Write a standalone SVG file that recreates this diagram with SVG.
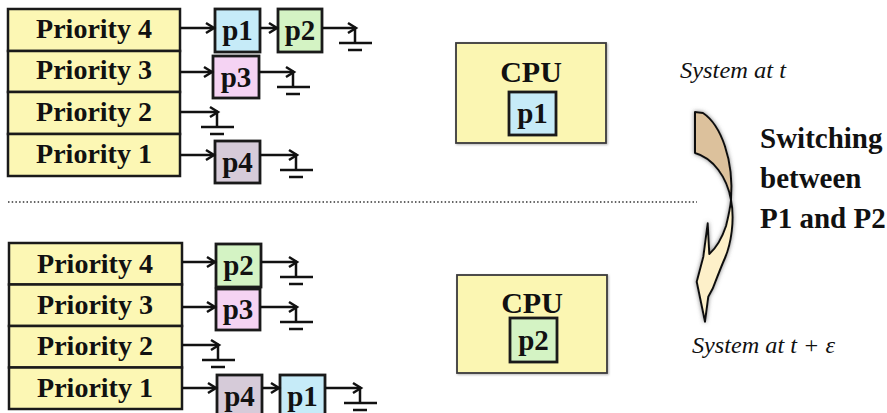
<svg xmlns="http://www.w3.org/2000/svg" xmlns:xlink="http://www.w3.org/1999/xlink" width="887" height="413" viewBox="0 0 887 413">
<style>
.row{fill:#fcf7b4;stroke:#1a1a1a;stroke-width:2.5}
.lbl{font-family:"Liberation Serif","Times New Roman",serif;font-weight:bold;font-size:28px;fill:#111;text-anchor:middle}
.pl{font-family:"Liberation Serif","Times New Roman",serif;font-weight:bold;font-size:29px;fill:#111;text-anchor:middle}
.pb{stroke:#1a1a1a;stroke-width:2.8}
.p1{fill:#c6ebf8}.p2{fill:#d4f3c4}.p3{fill:#f5d3f3}.p4{fill:#d6cbd9}
.cpu{fill:#fbf6b2;stroke:#3a3a3a;stroke-width:1.8}
.cl{font-family:"Liberation Serif","Times New Roman",serif;font-weight:bold;font-size:30px;fill:#111;text-anchor:middle}
.it{font-family:"Liberation Serif","Times New Roman",serif;font-style:italic;font-size:23px;fill:#111}
.sw{font-family:"Liberation Serif","Times New Roman",serif;font-weight:bold;font-size:29px;fill:#111}
.cn{fill:none;stroke:#111;stroke-width:2.5;marker-end:url(#ah)}
.g{fill:none;stroke:#111;stroke-width:2.5}
</style>
<defs>
<marker id="ah" viewBox="-2 -2 14 14" refX="9" refY="5" markerWidth="14" markerHeight="14" markerUnits="userSpaceOnUse" orient="auto">
<path d="M1,0 L9,5 L1,10" fill="none" stroke="#111" stroke-width="2.5"/>
</marker>
<g id="gnd">
<line class="g" x1="-1" y1="0" x2="-1" y2="15"/>
<line class="g" x1="-17" y1="15" x2="16" y2="15"/>
<line class="g" x1="-8" y1="22" x2="6" y2="22"/>
</g>
<filter id="sh" x="-50%" y="-20%" width="200%" height="140%">
<feDropShadow dx="0" dy="0" stdDeviation="2" flood-color="#666" flood-opacity="0.8"/>
</filter>
<filter id="bs" x="-10%" y="-10%" width="120%" height="120%">
<feDropShadow dx="1" dy="1" stdDeviation="1" flood-color="#888" flood-opacity="0.6"/>
</filter>
</defs>

<!-- TOP: priority table -->
<g id="top-priority-4"><rect class="row" x="8" y="9" width="172" height="42"/><text class="lbl" x="94" y="38">Priority 4</text></g>
<g id="top-priority-3"><rect class="row" x="8" y="51" width="172" height="41"/><text class="lbl" x="94" y="79">Priority 3</text></g>
<g id="top-priority-2"><rect class="row" x="8" y="92" width="172" height="42"/><text class="lbl" x="94" y="121">Priority 2</text></g>
<g id="top-priority-1"><rect class="row" x="8" y="134" width="172" height="42"/><text class="lbl" x="94" y="163">Priority 1</text></g>

<g id="top-p1"><rect class="pb p1" x="215" y="9" width="45" height="43"/><text class="pl" x="237.5" y="40">p1</text></g>
<g id="top-p2"><rect class="pb p2" x="278" y="9" width="44" height="43"/><text class="pl" x="300" y="40">p2</text></g>
<g id="top-p3"><rect class="pb p3" x="213" y="56" width="46" height="42"/><text class="pl" x="236" y="87">p3</text></g>
<g id="top-p4"><rect class="pb p4" x="215" y="141" width="45" height="42"/><text class="pl" x="237.5" y="172">p4</text></g>

<!-- BOTTOM: priority table -->
<g id="bot-priority-4"><rect class="row" x="9" y="243" width="173" height="41.5"/><text class="lbl" x="95" y="273">Priority 4</text></g>
<g id="bot-priority-3"><rect class="row" x="9" y="284.5" width="173" height="41.5"/><text class="lbl" x="95" y="314">Priority 3</text></g>
<g id="bot-priority-2"><rect class="row" x="9" y="326" width="173" height="41.5"/><text class="lbl" x="95" y="355">Priority 2</text></g>
<g id="bot-priority-1"><rect class="row" x="9" y="367.5" width="173" height="41.5"/><text class="lbl" x="95" y="397">Priority 1</text></g>

<g id="bot-p2"><rect class="pb p2" x="216" y="244" width="45" height="43"/><text class="pl" x="238.5" y="275">p2</text></g>
<g id="bot-p3"><rect class="pb p3" x="216" y="289" width="44" height="41"/><text class="pl" x="238" y="319">p3</text></g>
<g id="bot-p4"><rect class="pb p4" x="217" y="375" width="45" height="43"/><text class="pl" x="239.5" y="406">p4</text></g>
<g id="bot-p1"><rect class="pb p1" x="280" y="375" width="45" height="43"/><text class="pl" x="302.5" y="406">p1</text></g>

<!-- CPU boxes -->
<g id="cpu-top">
<rect class="cpu" x="456" y="43" width="150" height="100" filter="url(#bs)"/>
<text class="cl" x="531" y="82">CPU</text>
<rect class="pb p1" x="509" y="92" width="47" height="43"/>
<text class="pl" x="532.5" y="123">p1</text>
</g>
<g id="cpu-bottom">
<rect class="cpu" x="457" y="275" width="150" height="98" filter="url(#bs)"/>
<text class="cl" x="532" y="313">CPU</text>
<rect class="pb p2" x="510" y="318" width="47" height="44"/>
<text class="pl" x="533.5" y="350">p2</text>
</g>

<!-- labels -->
<g id="label-t"><text class="it" x="680" y="78" textLength="106" lengthAdjust="spacingAndGlyphs">System at t</text></g>
<g id="label-te"><text class="it" x="692" y="353" textLength="143" lengthAdjust="spacingAndGlyphs">System at t + ε</text></g>
<g id="label-switch">
<text class="sw" x="760" y="148">Switching</text>
<text class="sw" x="760" y="188">between</text>
<text class="sw" x="760" y="228">P1 and P2</text>
</g>

<!-- separator -->
<line x1="8" y1="202" x2="697" y2="202" stroke="#333" stroke-width="1.5" stroke-dasharray="1.5 2.2"/>

<!-- curved switching arrow -->
<g id="switch-arrow" filter="url(#sh)" stroke="#111" stroke-width="2" stroke-linejoin="round">
<path fill="#dcc19c" d="M695,112 L703,113 C721,125 734,160 731,200 C727,177 713,158 695,153 Z"/>
<path fill="#fdf0c9" d="M731,200 C735,220 731,244 725,258 C721,267 718,275 713,288 L708.3,296.7 L705,321.7 L696.7,281.7 L703.3,256.7 L707.7,223.3 L709.3,254 C716,248 722,238 726,226 C728,218 730,210 731,200 Z"/>
</g>

<!-- connectors -->
<g id="connectors">
<line class="cn" x1="180" y1="28" x2="214" y2="28"/>
<line class="cn" x1="260" y1="28" x2="277" y2="28"/>
<line class="cn" x1="322" y1="28" x2="356" y2="28"/>
<use href="#gnd" x="356" y="28"/>
<line class="cn" x1="180" y1="72" x2="212" y2="72"/>
<line class="cn" x1="259" y1="72" x2="294" y2="72"/>
<use href="#gnd" x="294" y="72"/>
<line class="cn" x1="180" y1="112" x2="218" y2="112"/>
<use href="#gnd" x="218" y="112"/>
<line class="cn" x1="180" y1="155" x2="214" y2="155"/>
<line class="cn" x1="260" y1="155" x2="297" y2="155"/>
<use href="#gnd" x="297" y="155"/>

<line class="cn" x1="182" y1="262" x2="215" y2="262"/>
<line class="cn" x1="261" y1="262" x2="297" y2="262"/>
<use href="#gnd" x="297" y="262"/>
<line class="cn" x1="182" y1="307" x2="215" y2="307"/>
<line class="cn" x1="260" y1="307" x2="297" y2="307"/>
<use href="#gnd" x="297" y="307"/>
<line class="cn" x1="182" y1="345" x2="219" y2="345"/>
<use href="#gnd" x="219" y="345"/>
<line class="cn" x1="182" y1="388" x2="216" y2="388"/>
<line class="cn" x1="262" y1="388" x2="279" y2="388"/>
<line class="cn" x1="325" y1="388" x2="361" y2="388"/>
<use href="#gnd" x="361" y="388"/>
</g>
</svg>
